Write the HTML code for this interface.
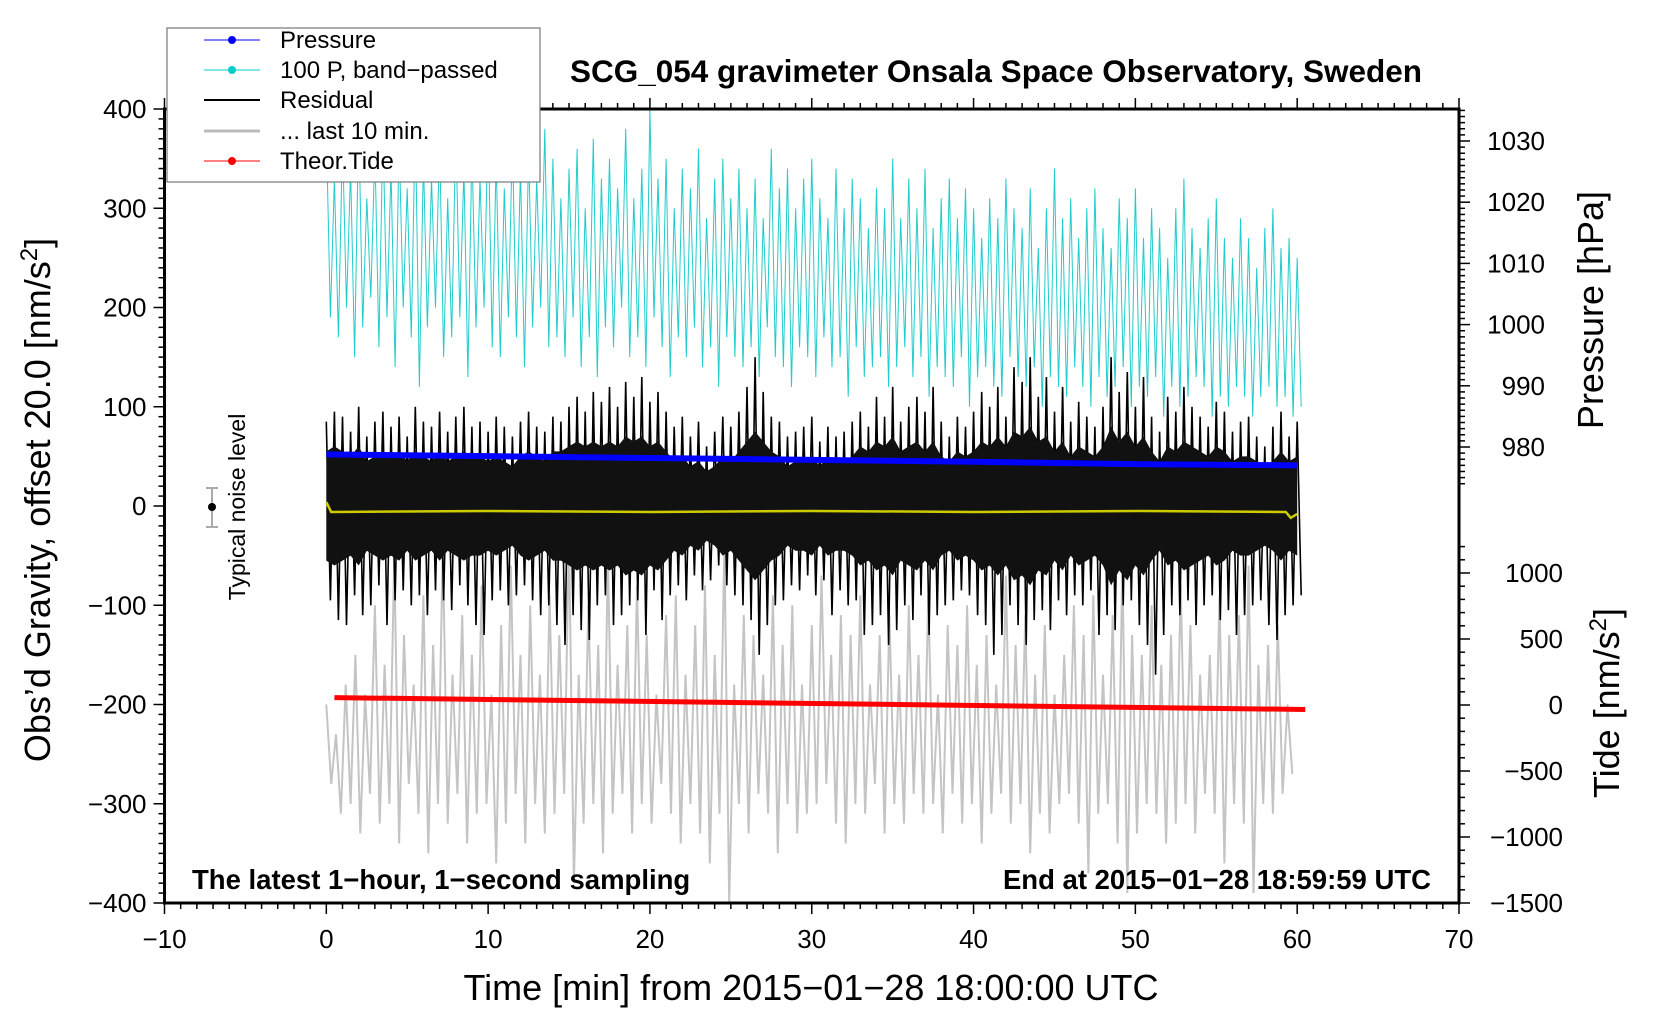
<!DOCTYPE html>
<html><head><meta charset="utf-8"><style>
html,body{margin:0;padding:0;background:#fff}
svg{display:block;font-family:"Liberation Sans",sans-serif}
</style></head><body>
<svg id="chart" width="1660" height="1020" viewBox="0 0 1660 1020" xmlns="http://www.w3.org/2000/svg">
<g id="marks"></g>
<g id="axes"></g>
<text x="996" y="82" text-anchor="middle" font-size="31.5" font-weight="bold">SCG_054 gravimeter Onsala Space Observatory, Sweden</text>
<text x="811" y="1000" text-anchor="middle" font-size="36">Time [min] from 2015−01−28 18:00:00 UTC</text>
<text transform="translate(50,500) rotate(-90)" text-anchor="middle" font-size="36">Obs’d Gravity, offset 20.0 [nm/s<tspan font-size="24" dy="-13">2</tspan><tspan dy="13">]</tspan></text>
<text transform="translate(1603,310) rotate(-90)" text-anchor="middle" font-size="36">Pressure [hPa]</text>
<text transform="translate(1619,703) rotate(-90)" text-anchor="middle" font-size="36">Tide [nm/s<tspan font-size="24" dy="-13">2</tspan><tspan dy="13">]</tspan></text>
<text x="192" y="889" font-size="27.5" font-weight="bold">The latest 1−hour, 1−second sampling</text>
<text x="1431" y="889" text-anchor="end" font-size="27.5" font-weight="bold">End at 2015−01−28 18:59:59 UTC</text>
<g>
<line x1="212" y1="488" x2="212" y2="527" stroke="#aaa" stroke-width="2"/>
<line x1="206" y1="488" x2="218" y2="488" stroke="#aaa" stroke-width="2"/>
<line x1="206" y1="527" x2="218" y2="527" stroke="#aaa" stroke-width="2"/>
<circle cx="212" cy="507" r="4" fill="#000"/>
<text transform="translate(245,507) rotate(-90)" text-anchor="middle" font-size="23">Typical noise level</text>
</g>
<g>
<rect x="167" y="28" width="373" height="154" fill="#fff" stroke="#777" stroke-width="1.2"/>
<g><line x1="204" y1="40" x2="260" y2="40" stroke="#00f"/><circle cx="232" cy="40" r="4" fill="#00f"/><text x="280" y="48" font-size="24">Pressure</text></g>
<g><line x1="204" y1="70" x2="260" y2="70" stroke="#0cc"/><circle cx="232" cy="70" r="4" fill="#0cc"/><text x="280" y="78" font-size="24">100 P, band−passed</text></g>
<g><line x1="204" y1="100" x2="260" y2="100" stroke="#000" stroke-width="2"/><text x="280" y="108" font-size="24">Residual</text></g>
<g><line x1="204" y1="131" x2="260" y2="131" stroke="#bbb" stroke-width="3"/><text x="280" y="139" font-size="24">... last 10 min.</text></g>
<g><line x1="204" y1="161" x2="260" y2="161" stroke="#f00"/><circle cx="232" cy="161" r="4" fill="#f00"/><text x="280" y="169" font-size="24">Theor.Tide</text></g>
</g>
</svg>
<script>
// ---- data ----
const resHi=[85,95,90,75,100,70,85,95,80,90,70,100,85,80,95,75,90,100,80,85,75,90,80,70,85,95,80,75,90,85,100,110,95,115,105,120,100,125,110,130,105,115,95,80,90,70,85,60,75,90,80,95,120,150,115,90,85,70,75,80,90,65,80,70,75,85,95,80,110,90,120,85,100,110,95,120,85,70,90,80,95,115,100,120,90,140,125,150,110,130,95,120,85,105,90,80,100,150,115,135,100,130,90,75,110,95,120,100,90,80,105,95,75,85,90,70,60,80,95,70,85];
const resLo=[-95,-115,-120,-90,-110,-100,-80,-120,-95,-85,-100,-90,-110,-85,-95,-105,-80,-100,-120,-130,-95,-85,-100,-90,-80,-95,-110,-100,-120,-140,-110,-125,-135,-100,-90,-120,-110,-100,-95,-130,-85,-115,-90,-80,-95,-70,-85,-75,-60,-80,-90,-100,-115,-150,-120,-100,-95,-80,-85,-70,-90,-75,-110,-85,-100,-95,-130,-120,-110,-140,-125,-100,-115,-90,-130,-110,-100,-95,-85,-90,-110,-120,-150,-130,-100,-120,-140,-115,-105,-125,-95,-110,-90,-100,-85,-130,-110,-125,-100,-95,-120,-140,-170,-130,-100,-110,-95,-120,-100,-90,-115,-105,-130,-110,-100,-95,-120,-135,-110,-100,-90];
const resCore=[55,60,55,50,60,45,50,55,50,55,45,55,50,45,55,45,50,55,50,50,45,50,45,40,50,55,50,45,55,55,60,65,60,65,60,65,60,70,65,70,60,65,55,45,50,40,45,35,40,50,45,55,65,75,65,55,50,40,45,45,50,40,50,45,45,50,60,55,65,60,70,55,60,65,55,65,50,45,55,50,55,65,60,70,60,75,70,80,65,70,55,65,50,60,55,50,60,80,65,75,60,70,55,45,60,55,65,60,55,50,60,55,45,50,50,45,40,45,55,45,50];
const cyanHi=[380,330,370,340,390,310,360,380,340,370,320,390,350,330,370,310,380,340,360,330,390,350,320,370,340,360,330,380,350,310,340,360,300,370,330,350,320,380,310,340,400,330,350,300,340,320,360,290,330,350,310,340,300,330,290,360,320,340,300,330,350,310,290,340,300,330,310,280,320,300,350,290,330,300,340,280,310,330,290,320,300,270,310,290,330,300,280,320,260,300,340,290,310,270,300,320,280,260,310,290,320,270,300,280,250,300,330,280,260,290,310,270,250,290,270,240,280,300,260,270,250];
const cyanLo=[190,170,200,150,180,210,160,190,140,200,170,120,180,200,150,170,190,130,180,200,160,150,190,170,140,180,200,160,170,150,190,140,170,130,180,160,200,150,170,140,190,160,130,170,150,180,140,160,120,170,150,140,160,130,180,150,140,120,160,150,130,170,140,150,110,160,130,140,150,120,140,160,130,150,110,140,130,120,150,100,130,140,120,110,150,130,120,140,100,130,120,110,140,120,100,130,110,120,140,100,120,110,130,90,120,100,110,130,120,90,110,100,120,110,90,110,120,100,110,90,100];
const grayHi=[-200,-230,-180,-150,-190,-100,-160,-50,-130,-180,-90,-140,-40,-170,-110,-150,-80,-190,-120,-60,-150,-100,-170,-90,-130,-30,-170,-100,-140,-50,-160,-120,-80,-130,-190,-110,-90,-170,-120,-80,-150,-40,-180,-110,-130,-170,-90,-140,-100,-180,-120,-70,-150,-110,-130,-90,-180,-130,-110,-170,-100,-150,-90,-190,-120,-140,-100,-160,-130,-180,-70,-140,-110,-170,-120,-190,-150,-100,-130,-90,-170,-110,-60,-130,-150,-100,-160,-130,-80,-120,-170,-150,-90,-130,-110,-60,-160,-140,-120,-200];
const grayLo=[-280,-310,-300,-330,-290,-320,-300,-340,-280,-310,-350,-300,-320,-290,-340,-310,-300,-360,-320,-290,-340,-300,-330,-310,-290,-380,-320,-300,-350,-310,-290,-330,-300,-320,-280,-310,-340,-300,-330,-360,-310,-400,-300,-330,-290,-310,-350,-300,-330,-310,-300,-280,-320,-340,-300,-310,-280,-330,-300,-320,-290,-310,-300,-330,-290,-320,-300,-340,-310,-290,-320,-300,-350,-310,-330,-300,-290,-320,-370,-310,-300,-340,-390,-330,-300,-310,-340,-320,-300,-330,-290,-310,-360,-300,-320,-390,-300,-310,-290,-270];
const pressTimes=[0,10,20,30,40,50,60];
const pressVals=[978.8,978.5,978.2,977.9,977.6,977.2,977.0];
const residMeanTimes=[0,0.3,10,20,30,40,50,59.3,59.6,60];
const residMeanVals=[4,-6,-5,-6,-5,-6,-5,-6,-12,-8];
const tideTimes=[0.5,60.5];
const tideVals=[56,-34];
const xTicks=[-10,0,10,20,30,40,50,60,70];
const yTicks=[400,300,200,100,0,-100,-200,-300,-400];
const pTicks=[1030,1020,1010,1000,990,980];
const tTicks=[1000,500,0,-500,-1000,-1500];

// ---- scales ----
const X0=164.5,X1=1459,Y0=109,Y1=903;
const xs=t=>X0+(t+10)*(X1-X0)/80;
const yL=v=>Y0+(400-v)*(Y1-Y0)/800;
const yP=p=>447-(p-980)*6.12;
const yT=v=>573-(v-1000)*0.132;
const NS='http://www.w3.org/2000/svg';
const marks=document.getElementById('marks'),axes=document.getElementById('axes');
function mk(tag,parent){const e=document.createElementNS(NS,tag);parent.appendChild(e);return e;}

function zig(hi,lo,step,t0){let p=[];for(let i=0;i<hi.length;i++){p.push(xs(t0+i*step).toFixed(1)+','+yL(hi[i]).toFixed(1));if(i<lo.length)p.push(xs(t0+i*step+step/2).toFixed(1)+','+yL(lo[i]).toFixed(1));}return p.join(' ');}

const cy=mk('polyline',marks);


cy.setAttribute('points',zig(cyanHi,cyanLo,0.5,0));cy.setAttribute('fill','none');cy.setAttribute('stroke','#2cc');cy.setAttribute('stroke-width','1');

const gr=mk('polyline',marks);


gr.setAttribute('points',zig(grayHi,grayLo,0.6,0));gr.setAttribute('fill','none');gr.setAttribute('stroke','#c4c4c4');gr.setAttribute('stroke-width','2');

const rs=mk('polyline',marks);


rs.setAttribute('points',zig(resHi,resLo,0.5,0));rs.setAttribute('fill','none');rs.setAttribute('stroke','#000');rs.setAttribute('stroke-width','1.6');

let core=[];
resCore.forEach((v,i)=>core.push(xs(i*0.5).toFixed(1)+','+yL(v).toFixed(1)));
for(let i=resCore.length-1;i>=0;i--)core.push(xs(i*0.5).toFixed(1)+','+yL(-resCore[i]).toFixed(1));
const rc=mk('polygon',marks);


rc.setAttribute('points',core.join(' '));rc.setAttribute('fill','#111');

const pr=mk('polyline',marks);


pr.setAttribute('points',pressTimes.map((t,i)=>xs(t)+','+yP(pressVals[i])).join(' '));pr.setAttribute('fill','none');pr.setAttribute('stroke','#00f');pr.setAttribute('stroke-width','6');

const ym=mk('polyline',marks);


ym.setAttribute('points',residMeanTimes.map((t,i)=>xs(t)+','+yL(residMeanVals[i])).join(' '));ym.setAttribute('fill','none');ym.setAttribute('stroke','#cc0');ym.setAttribute('stroke-width','2.5');

const td=mk('polyline',marks);


td.setAttribute('points',tideTimes.map((t,i)=>xs(t)+','+yT(tideVals[i])).join(' '));td.setAttribute('fill','none');td.setAttribute('stroke','#f00');td.setAttribute('stroke-width','5');

// ---- axes ----
function line(x1,y1,x2,y2,w){const l=mk('line',axes);l.setAttribute('x1',x1);l.setAttribute('y1',y1);l.setAttribute('x2',x2);l.setAttribute('y2',y2);l.setAttribute('stroke','#000');l.setAttribute('stroke-width',w||1.5);return l;}
function txt(x,y,s,anchor){const t=mk('text',axes);t.setAttribute('x',x);t.setAttribute('y',y);t.setAttribute('font-size','26');t.setAttribute('text-anchor',anchor);t.textContent=s;return t;}
const frame=mk('rect',axes);


frame.setAttribute('x',X0);frame.setAttribute('y',Y0);frame.setAttribute('width',X1-X0);frame.setAttribute('height',Y1-Y0);frame.setAttribute('fill','none');frame.setAttribute('stroke','#000');frame.setAttribute('stroke-width','3');
for(let t=-10;t<=70;t++){const maj=t%10===0;line(xs(t),Y1,xs(t),Y1+(maj?11:6));line(xs(t),Y0,xs(t),Y0-(maj?11:6));}
xTicks.forEach(t=>{const e=txt(xs(t),Y1+45,String(t).replace('-','−'),'middle');

});
for(let v=-400;v<=400;v+=10){const maj=v%100===0;line(X0,yL(v),X0-(maj?11:6),yL(v));}
yTicks.forEach(v=>{const e=txt(X0-18,yL(v)+9,String(v).replace('-','−'),'end');

});
for(let p=974;p<=1035;p++){const maj=p%10===0;line(X1,yP(p),X1+(maj?11:6),yP(p));}
pTicks.forEach(p=>{const e=txt(1545,yP(p)+9,String(p),'end');

});
for(let v=-1500;v<=1200;v+=100){const maj=v%500===0;line(X1,yT(v),X1+(maj?11:6),yT(v));}
tTicks.forEach(v=>{const e=txt(1563,yT(v)+9,String(v).replace('-','−'),'end');

});
</script>
</body></html>
